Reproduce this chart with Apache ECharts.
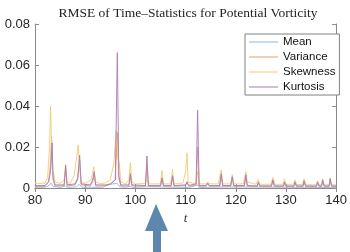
<!DOCTYPE html>
<html>
<head>
<meta charset="utf-8">
<script src="https://cdn.jsdelivr.net/npm/echarts@6/dist/echarts.min.js"></script>
<style>html,body{margin:0;padding:0;background:#fff}#c{width:350px;height:252px}</style>
</head>
<body>
<div id="c"></div>
<script>
const titleText = 'RMSE of Time\u2013Statistics for Potential Vorticity';
const seriesNames = ['Mean', 'Variance', 'Skewness', 'Kurtosis'];
const xTicks = [80, 90, 100, 110, 120, 130, 140];
const yTicks = [0, 0.02, 0.04, 0.06, 0.08];

const meanData = [[80,0.0003],[82,0.0004],[82.8,0.0012],[83.2,0.0025],[83.6,0.0008],[85,0.0003],[86.1,0.001],[86.5,0.0003],[88.3,0.0006],[88.8,0.0018],[89.3,0.0004],[91.4,0.0004],[91.7,0.001],[92.1,0.0003],[93.5,0.0004],[94.5,0.0015],[95.5,0.002],[96.4,0.0022],[96.9,0.0006],[98,0.0003],[99,0.0008],[99.4,0.0003],[102.3,0.0006],[102.6,0.0002],[110,0.0003],[110.3,0.001],[110.6,0.0002],[112.4,0.0015],[112.7,0.0002],[117.1,0.0005],[117.4,0.0002],[122,0.0005],[122.3,0.0002],[140,0.0002]];

const varianceData = [[80,0.0008],[82,0.0008],[82.7,0.003],[83.1,0.012],[83.3,0.025],[83.6,0.004],[84,0.001],[85.8,0.001],[86.1,0.009],[86.4,0.001],[88,0.0015],[88.5,0.004],[88.9,0.013],[89.2,0.0015],[91,0.001],[91.5,0.003],[91.8,0.007],[92.1,0.001],[94,0.001],[95,0.0018],[96,0.004],[96.4,0.027],[96.7,0.005],[97.1,0.001],[98.7,0.001],[99.0,0.006],[99.3,0.001],[102,0.0009],[102.3,0.01],[102.6,0.0009],[105,0.0009],[105.3,0.004],[105.6,0.0009],[107.1,0.0009],[107.4,0.005],[107.7,0.0009],[110,0.0012],[110.3,0.003],[110.6,0.0009],[112.1,0.0015],[112.4,0.02],[112.7,0.0009],[114.1,0.0009],[114.4,0.002],[114.7,0.0009],[116.8,0.0009],[117.1,0.006],[117.4,0.0009],[119,0.0009],[119.3,0.005],[119.6,0.0009],[121.7,0.0009],[122,0.005],[122.3,0.0009],[124.3,0.0008],[124.5,0.0025],[124.8,0.0008],[127.1,0.0008],[127.4,0.0035],[127.7,0.0008],[129.5,0.0008],[129.7,0.0025],[130,0.0008],[131.6,0.0008],[131.8,0.0025],[132.1,0.0008],[133.4,0.0008],[133.6,0.003],[133.9,0.0008],[136.1,0.0008],[136.3,0.0025],[136.6,0.0008],[137.1,0.0008],[137.3,0.003],[137.6,0.0008],[138.6,0.0008],[138.8,0.0035],[139.1,0.0008],[140,0.0008]];

const skewnessData = [[80,0.0023],[81,0.0022],[82,0.0024],[82.5,0.005],[82.9,0.02],[83.1,0.040],[83.3,0.021],[83.5,0.006],[83.7,0.0075],[84,0.003],[85,0.0022],[85.8,0.004],[86.1,0.0115],[86.4,0.003],[87,0.0022],[87.8,0.006],[88.3,0.015],[88.6,0.021],[88.8,0.012],[89.2,0.003],[90,0.0022],[91.2,0.004],[91.7,0.0104],[92,0.003],[93,0.0022],[94,0.0024],[95,0.004],[95.7,0.012],[96.2,0.028],[96.5,0.015],[96.8,0.012],[97.1,0.003],[98,0.002],[98.7,0.004],[99.0,0.0123],[99.3,0.003],[100,0.002],[102,0.0022],[102.3,0.005],[102.6,0.002],[105,0.002],[105.3,0.0085],[105.6,0.002],[107,0.002],[107.4,0.009],[107.7,0.002],[109.5,0.0025],[110,0.008],[110.3,0.017],[110.5,0.003],[112,0.002],[112.2,0.005],[112.4,0.008],[112.6,0.002],[114,0.002],[114.4,0.003],[114.8,0.002],[116.5,0.002],[117.1,0.0088],[117.4,0.002],[119,0.002],[119.3,0.0065],[119.6,0.002],[121.5,0.002],[122,0.008],[122.3,0.003],[124,0.0018],[124.5,0.0042],[124.8,0.0018],[127,0.0018],[127.4,0.0052],[127.8,0.0018],[129.4,0.0018],[129.7,0.0045],[130,0.0018],[131.5,0.0018],[131.8,0.004],[132.1,0.0017],[133.3,0.0017],[133.6,0.0045],[134,0.0016],[135,0.0016],[135.2,0.002],[135.5,0.0016],[136.1,0.0016],[136.3,0.0035],[136.6,0.0016],[137.1,0.0016],[137.3,0.0045],[137.6,0.0016],[138.6,0.0016],[138.8,0.005],[139.1,0.0016],[140,0.0016]];

const kurtosisData = [[80,0.0012],[82,0.0012],[82.7,0.003],[83.1,0.008],[83.4,0.022],[83.6,0.005],[84,0.0015],[85.8,0.0015],[86.1,0.011],[86.4,0.0015],[88,0.002],[88.5,0.005],[88.9,0.016],[89.2,0.002],[91,0.0015],[91.5,0.004],[91.8,0.008],[92.1,0.0015],[94,0.0015],[95,0.002],[96,0.004],[96.4,0.066],[96.7,0.006],[97.1,0.0015],[98.7,0.0015],[99.0,0.007],[99.3,0.0015],[102,0.0012],[102.3,0.0156],[102.6,0.0012],[105,0.0012],[105.3,0.005],[105.6,0.0012],[107.1,0.0012],[107.4,0.006],[107.7,0.0012],[110,0.0015],[110.3,0.003],[110.6,0.0012],[112.1,0.002],[112.4,0.038],[112.7,0.0012],[114.1,0.0012],[114.4,0.0025],[114.7,0.0012],[116.8,0.0012],[117.1,0.007],[117.4,0.0012],[119,0.0012],[119.3,0.0055],[119.6,0.0012],[121.7,0.0012],[122,0.0065],[122.3,0.0012],[124.3,0.001],[124.5,0.003],[124.8,0.001],[127.1,0.001],[127.4,0.004],[127.7,0.001],[129.5,0.001],[129.7,0.003],[130,0.001],[131.6,0.001],[131.8,0.003],[132.1,0.001],[133.4,0.001],[133.6,0.0035],[133.9,0.001],[135,0.001],[135.2,0.0018],[135.4,0.001],[136.1,0.001],[136.3,0.003],[136.6,0.001],[137.1,0.001],[137.3,0.004],[137.6,0.001],[138.6,0.001],[138.8,0.0045],[139.1,0.001],[140,0.001]];

const colors = ['#8db7e0', '#e39a74', '#f2cc6e', '#a77ab9'];
const allData = [meanData, varianceData, skewnessData, kurtosisData];

const chart = echarts.init(document.getElementById('c'), null, {renderer: 'canvas'});
const axisColor = '#8a8a8a';
const labelFont = {color: '#262626', fontSize: 13, fontFamily: 'Liberation Sans, Arial, sans-serif'};

chart.setOption({
  animation: false,
  title: {
    text: titleText, left: 183, top: 1, textAlign: 'center',
    textStyle: {fontFamily: 'Liberation Serif, DejaVu Serif, serif', fontWeight: 'normal', fontSize: 13.5, color: '#222'}
  },
  grid: {left: 35, right: 8, top: 24, bottom: 64, containLabel: false},
  legend: {
    orient: 'vertical', left: 245, top: 34,
    data: seriesNames.map(n => ({name: n, icon: 'rect'})),
    backgroundColor: '#fff', borderColor: '#808080', borderWidth: 1,
    padding: [1, 4, 1, 4], itemGap: 1, itemWidth: 29, itemHeight: 1,
    textStyle: {color: '#111', fontSize: 11.5, fontFamily: 'Liberation Sans, Arial, sans-serif', lineHeight: 14}
  },
  xAxis: [{
    type: 'value', min: 80, max: 140, interval: 10,
    name: 't', nameLocation: 'middle', nameGap: 17,
    nameTextStyle: {fontFamily: 'Liberation Serif, serif', fontStyle: 'italic', fontSize: 13, color: '#333'},
    axisLine: {lineStyle: {color: axisColor, width: 1}},
    axisTick: {inside: true, length: 4, lineStyle: {color: axisColor}},
    axisLabel: Object.assign({margin: 6, formatter: v => xTicks.includes(v) ? String(v) : ''}, labelFont),
    splitLine: {show: false}
  }, {
    type: 'value', min: 80, max: 140, interval: 10, position: 'top',
    axisLine: {show: true, lineStyle: {color: axisColor, width: 1}},
    axisTick: {show: true, inside: true, length: 4, lineStyle: {color: axisColor}},
    axisLabel: {show: false}, splitLine: {show: false}
  }],
  yAxis: [{
    type: 'value', min: 0, max: 0.08, interval: 0.02,
    axisLine: {show: true, lineStyle: {color: axisColor, width: 1}},
    axisTick: {show: true, inside: true, length: 4, lineStyle: {color: axisColor}},
    axisLabel: Object.assign({margin: 5, formatter: v => {
      const t = yTicks.find(k => Math.abs(k - v) < 1e-9);
      return t === undefined ? '' : (t === 0 ? '0' : t.toFixed(2));
    }}, labelFont),
    splitLine: {show: false}
  }, {
    type: 'value', min: 0, max: 0.08, interval: 0.02, position: 'right',
    axisLine: {show: true, lineStyle: {color: axisColor, width: 1}},
    axisTick: {show: true, inside: true, length: 4, lineStyle: {color: axisColor}},
    axisLabel: {show: false}, splitLine: {show: false}
  }],
  series: seriesNames.map((n, i) => ({
    name: n, type: 'line', data: allData[i], symbol: 'none', showSymbol: false,
    xAxisIndex: 0, yAxisIndex: 0,
    lineStyle: {color: colors[i], width: 1, opacity: 0.9},
    itemStyle: {color: colors[i]},
    z: 2 + i
  })),
  graphic: [{
    type: 'polygon', silent: true,
    shape: {points: [[156, 204], [168, 231], [161, 231], [161, 252], [153, 252], [153, 231], [145, 231]]},
    style: {fill: '#5e87ad'}
  }]
});
</script>
</body>
</html>
